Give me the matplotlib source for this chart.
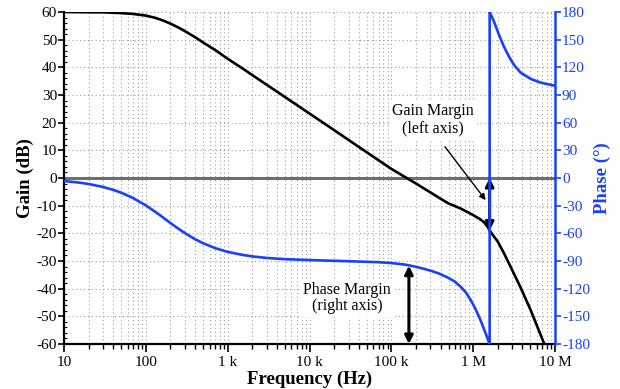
import matplotlib
matplotlib.use("Agg")
import matplotlib.pyplot as plt
from matplotlib.ticker import FixedLocator, NullFormatter

plt.rcParams['font.family'] = ['Liberation Serif', 'DejaVu Serif']
plt.rcParams['axes.unicode_minus'] = False

BLUE = '#1a40ff'

# gain curve (left axis)
gain_freq = [10, 20, 30, 50, 70, 100, 130, 160, 200, 250, 300, 400, 500, 700,
             1e3, 1.5e3, 2e3, 3e3, 5e3, 1e4, 2e4, 5e4, 1e5, 2e5, 3e5, 4e5,
             5e5, 7e5, 8.5e5, 1e6, 1.2e6, 1.36e6, 1.5e6, 1.59e6, 1.75e6, 2e6,
             2.38e6, 3e6, 3.8e6, 5e6, 6e6, 7.4e6]
gain_db = [60.0, 59.9, 59.9, 59.6, 59.3, 58.7, 57.9, 57.0, 55.8, 54.4, 53.1,
           50.9, 49.0, 46.3, 43.1, 39.7, 37.2, 33.7, 29.3, 23.3, 17.3, 9.3,
           3.3, -2.0, -5.2, -7.5, -9.2, -11.0, -12.3, -13.4, -14.8, -16.0,
           -17.6, -19.0, -20.7, -23.0, -27.2, -33.3, -39.6, -47.5, -53.3, -60.0]

# phase curve (right axis), wraps from -180 to +180 at the crossover
phase_freq = [10, 15, 20, 30, 40, 50, 70, 100, 130, 160, 200, 250, 300, 400,
              500, 700, 1e3, 1.5e3, 2e3, 3e3, 5e3, 1e4, 2e4, 4e4, 7e4, 1e5,
              1.5e5, 2e5, 2.51e5, 3.02e5, 3.8e5, 4.83e5, 5.89e5, 7.03e5,
              8.13e5, 9.33e5, 1.047e6, 1.18e6, 1.288e6, 1.42e6, 1.496e6,
              1.55e6, 1.59e6, 1.59e6, 1.66e6, 1.8e6, 2.07e6, 2.38e6, 2.74e6,
              3.16e6, 3.81e6, 5.06e6, 6.7e6, 1e7]
phase_deg = [-3.3, -4.9, -6.5, -9.7, -12.9, -15.9, -21.8, -29.7, -36.6, -42.4,
             -48.8, -55.0, -59.7, -66.4, -70.7, -76.0, -80.1, -83.3, -85.0,
             -86.7, -88.0, -89.0, -89.8, -90.6, -91.3, -92.2, -94.0, -96.3,
             -98.5, -100.5, -103.5, -107.7, -112.0, -117.9, -124.0, -132.3,
             -140.5, -150.4, -158.7, -168.4, -173.8, -177.5, -180.0, 180.0,
             176.4, 169.5, 155.1, 142.4, 131.6, 122.5, 114.2, 107.4, 103.4,
             100.0]

x_ticks = [10, 100, 1e3, 1e4, 1e5, 1e6, 1e7]
x_labels = ['10', '100', '1 k', '10 k', '100 k', '1 M', '10 M']
gain_ticks = list(range(-60, 61, 10))
phase_ticks = list(range(-180, 181, 30))

# margins
f180 = 1.59e6
gain_at_f180 = -19.0
f_pm = 164e3
phase_at_pm = -95.1

fig = plt.figure(figsize=(6.2, 3.89), dpi=100)
ax = fig.add_axes([64 / 620, 45 / 389, 491 / 620, 332 / 389])
ax2 = ax.twinx()

ax.set_xscale('log')
ax.set_xlim(10, 1e7)
ax.set_ylim(-60, 60)
ax2.set_ylim(-180, 180)

minor = [m * 10 ** d for d in range(1, 7) for m in range(2, 10)]
ax.xaxis.set_major_locator(FixedLocator(x_ticks))
ax.xaxis.set_minor_locator(FixedLocator(minor))
ax.set_xticklabels(x_labels)
ax.xaxis.set_minor_formatter(NullFormatter())
ax.set_yticks(gain_ticks)
ax.yaxis.set_minor_locator(FixedLocator(list(range(-60, 61, 2))))
ax2.set_yticks(phase_ticks)

# dotted grid
ax.grid(True, which='both', axis='x', color='#a0a0a0', linestyle=(0, (1, 2.5)), linewidth=0.8)
ax.grid(True, which='major', axis='y', color='#a0a0a0', linestyle=(0, (1, 2.5)), linewidth=0.8)
ax.axhline(0, color='#6e6e6e', linewidth=2.2, zorder=2)

ax.plot(gain_freq, gain_db, color='black', linewidth=1.9, zorder=4)
ax2.plot(phase_freq, phase_deg, color=BLUE, linewidth=1.9, zorder=3)

ax.tick_params(axis='x', which='major', direction='out', length=6, width=1.2, labelsize=11, pad=3)
ax.tick_params(axis='x', which='minor', direction='out', length=3.5, width=1)
ax.tick_params(axis='y', which='major', direction='out', length=4, width=1.2, labelsize=11, pad=1)
ax.tick_params(axis='y', which='minor', direction='in', length=2, width=0.8)
ax2.tick_params(axis='y', which='major', direction='out', length=4, width=1.2, labelsize=11,
                colors=BLUE, pad=1)

for s in ['left', 'bottom']:
    ax.spines[s].set_linewidth(1.6)
ax.spines['top'].set_visible(False)
ax2.spines['top'].set_visible(False)
ax2.spines['left'].set_visible(False)
ax2.spines['bottom'].set_visible(False)
ax2.spines['right'].set_color(BLUE)
ax2.spines['right'].set_linewidth(1.8)
ax.spines['right'].set_visible(False)

ax.set_xlabel('Frequency (Hz)', fontsize=13.5, fontweight='bold', labelpad=1)
ax.set_ylabel('Gain (dB)', fontsize=13.5, fontweight='bold', labelpad=2)
ax2.set_ylabel('Phase (°)', fontsize=13.5, fontweight='bold', color=BLUE, labelpad=3)

# gain margin arrow (left axis)
ax.annotate('', xy=(f180, gain_at_f180), xytext=(f180, 0),
            arrowprops=dict(arrowstyle='<|-|>', color='black', lw=2.2,
                            mutation_scale=12, shrinkA=0, shrinkB=0), zorder=6)
# phase margin arrow (right axis)
ax2.annotate('', xy=(f_pm, -180), xytext=(f_pm, phase_at_pm),
             arrowprops=dict(arrowstyle='<|-|>', color='black', lw=2.2,
                             mutation_scale=12, shrinkA=0, shrinkB=0), zorder=6)

# pointer from the gain margin label
ax.annotate('', xy=(1.42e6, -8.0), xytext=(452e3, 11.3),
            arrowprops=dict(arrowstyle='-|>', color='black', lw=1.0,
                            mutation_scale=9, shrinkA=0, shrinkB=0), zorder=6)

ax2.text(324e3, 21.1 * 3, 'Gain Margin\n(left axis)', ha='center', va='center',
         fontsize=11.5, linespacing=1.05, zorder=7,
         bbox=dict(facecolor='white', edgecolor='none', pad=2))
ax2.text(29e3, -130, 'Phase Margin\n(right axis)', ha='center', va='center',
         fontsize=11.5, linespacing=1.05, zorder=7,
         bbox=dict(facecolor='white', edgecolor='none', pad=2))

fig.savefig('out.png', dpi=100)
